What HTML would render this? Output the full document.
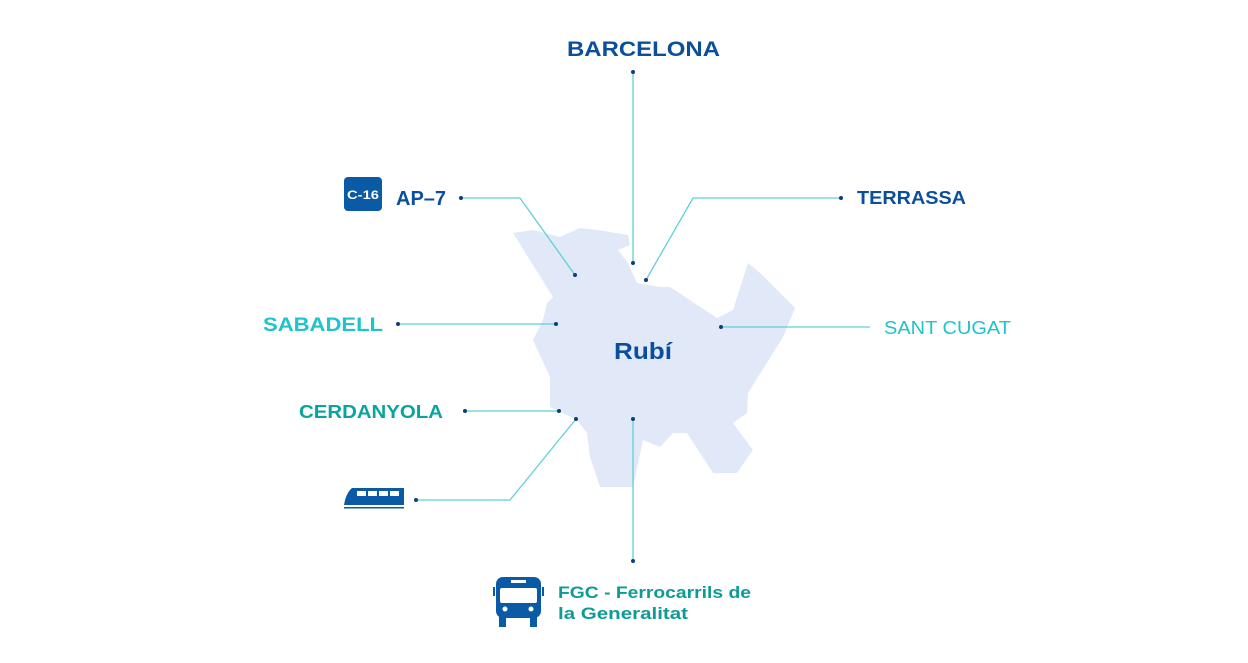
<!DOCTYPE html>
<html><head><meta charset="utf-8"><style>
html,body{margin:0;padding:0;background:#fff;}
svg{display:block;font-family:"Liberation Sans",sans-serif;font-weight:bold;}
</style></head><body>
<svg width="1248" height="663" viewBox="0 0 1248 663" xmlns="http://www.w3.org/2000/svg">
<polygon fill="#e1e8f8" points="513,233 533,230 560,237 580,228 597,230 628,235 630,245 618,250 628,263 637,283 660,287 670,287 717,318 733,310 748,263 760,273 795,308 783,337 748,393 747,413 733,423 753,450 737,473 713,473 687,433 673,433 660,447 643,440 633,487 600,487 590,457 587,433 577,420 550,407 550,377 533,340 543,320 547,303 553,297"/>
<g stroke="#5fd0d8" stroke-width="1.3" fill="none">
<polyline points="633,72 633,263"/>
<polyline points="461,198 520,198 575,275"/>
<polyline points="841,198 693,198 646,280"/>
<polyline points="398,324 556,324"/>
<polyline points="721,327 870,327"/>
<polyline points="465,411 559,411"/>
<polyline points="416,500 510,500 576,419"/>
<polyline points="633,419 633,561"/>
</g>
<g fill="#0b3f7a">
<circle cx="633" cy="72" r="2"/><circle cx="633" cy="263" r="2"/>
<circle cx="461" cy="198" r="2"/><circle cx="575" cy="275" r="2"/>
<circle cx="841" cy="198" r="2"/><circle cx="646" cy="280" r="2"/>
<circle cx="398" cy="324" r="2"/><circle cx="556" cy="324" r="2"/>
<circle cx="721" cy="327" r="2"/>
<circle cx="465" cy="411" r="2"/><circle cx="559" cy="411" r="2"/>
<circle cx="416" cy="500" r="2"/><circle cx="576" cy="419" r="2"/>
<circle cx="633" cy="419" r="2"/><circle cx="633" cy="561" r="2"/>
</g>
<text x="567" y="56" font-size="21" fill="#0b4f9c" textLength="153" lengthAdjust="spacingAndGlyphs">BARCELONA</text>
<text x="857" y="204" font-size="18" fill="#0b4f9c" textLength="109" lengthAdjust="spacingAndGlyphs">TERRASSA</text>
<rect x="344" y="177" width="38" height="34" rx="4" fill="#0b5aa6"/>
<text x="347" y="199" font-size="12" fill="#fff" textLength="32" lengthAdjust="spacingAndGlyphs">C-16</text>
<text x="396" y="205" font-size="20" fill="#0b4f9c">AP–7</text>
<text x="263" y="331" font-size="19" fill="#1ec3cb" textLength="120" lengthAdjust="spacingAndGlyphs">SABADELL</text>
<text x="884" y="334" font-size="18" fill="#1ec3cb" font-weight="normal" textLength="127" lengthAdjust="spacingAndGlyphs">SANT CUGAT</text>
<text x="299" y="418" font-size="18" fill="#0aa49f" textLength="144" lengthAdjust="spacingAndGlyphs">CERDANYOLA</text>
<text x="614" y="359" font-size="23" fill="#0b4f9c" textLength="58" lengthAdjust="spacingAndGlyphs">Rubí</text>
<text x="558" y="598" font-size="17" fill="#0e9b96" textLength="193" lengthAdjust="spacingAndGlyphs">FGC - Ferrocarrils de</text>
<text x="558" y="619" font-size="17" fill="#0e9b96" textLength="130" lengthAdjust="spacingAndGlyphs">la Generalitat</text>
<path d="M352,488 L404,488 L404,505 L344,505 Q346,493 352,488 Z" fill="#0b5aa6"/>
<g fill="#fff"><rect x="357" y="491" width="9" height="5"/><rect x="368" y="491" width="9" height="5"/><rect x="379" y="491" width="9" height="5"/><rect x="390" y="491" width="9" height="5"/></g>
<rect x="344" y="507" width="60" height="1.5" fill="#0b5aa6"/>
<rect x="496" y="577" width="45" height="41" rx="7" fill="#0b5aa6"/>
<rect x="500" y="588" width="37" height="15" rx="2" fill="#fff"/>
<rect x="511" y="580" width="15" height="3" fill="#fff"/>
<rect x="493" y="587" width="2" height="9" fill="#0b5aa6"/><rect x="542" y="587" width="2" height="9" fill="#0b5aa6"/>
<circle cx="505" cy="609" r="2.5" fill="#fff"/><circle cx="531" cy="609" r="2.5" fill="#fff"/>
<rect x="499" y="617" width="7" height="10" fill="#0b5aa6"/><rect x="530" y="617" width="7" height="10" fill="#0b5aa6"/>
</svg>
</body></html>
